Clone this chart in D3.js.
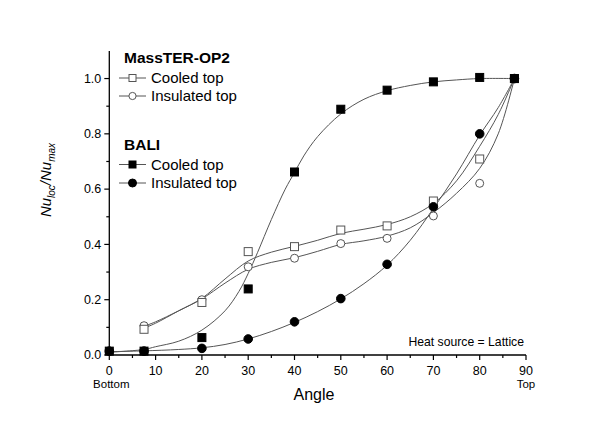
<!DOCTYPE html>
<html><head><meta charset="utf-8">
<script src="https://cdn.jsdelivr.net/npm/d3@7"></script>
<style>html,body{margin:0;padding:0;background:#fff;}svg{display:block;font-family:"Liberation Sans",Arial,sans-serif;}</style>
</head><body><svg id="c" width="610" height="426"></svg>
<script>
// ---- data ----
const xTicks = [0,10,20,30,40,50,60,70,80,90];
const yTicks = [0.0,0.2,0.4,0.6,0.8,1.0];
const angles = [7.5,20,30,40,50,60,70,80,87.5];
const anglesBali = [0,7.5,20,30,40,50,60,70,80,87.5];
const masterCooled = [0.093,0.19,0.374,0.392,0.452,0.467,0.557,0.709,1.0];
const masterInsul  = [0.106,0.20,0.319,0.35,0.403,0.422,0.503,0.621,1.0];
const baliCooled   = [0.014,0.014,0.063,0.239,0.662,0.889,0.958,0.988,1.004,1.0];
const baliInsul    = [0.014,0.014,0.024,0.058,0.12,0.204,0.328,0.536,0.80,1.0];
// fitted curves
const fitMasterCooledX = [7.5,10,15,20,25,30,35,40,45,50,55,60,65,70,75,80,84,87.5];
const fitMasterCooledY = [0.097,0.115,0.16,0.205,0.275,0.34,0.372,0.393,0.415,0.44,0.455,0.472,0.5,0.548,0.63,0.755,0.87,1.0];
const fitMasterInsulX  = [7.5,10,15,20,25,30,35,40,45,50,55,60,65,70,75,80,84,87.5];
const fitMasterInsulY  = [0.104,0.12,0.16,0.203,0.26,0.31,0.335,0.352,0.375,0.4,0.413,0.43,0.46,0.515,0.585,0.675,0.8,1.0];
const fitBaliCooledX = [0,7.5,10,15,20,25,28,30,32,35,38,40,42,45,50,55,60,65,70,75,80,87.5];
const fitBaliCooledY = [0.01,0.02,0.03,0.05,0.09,0.16,0.23,0.295,0.37,0.49,0.6,0.66,0.72,0.79,0.872,0.925,0.956,0.975,0.988,0.995,1.0,1.0];
const fitBaliInsulX  = [0,7.5,15,20,25,30,35,40,45,50,55,60,65,70,75,80,84,87.5];
const fitBaliInsulY  = [0.012,0.015,0.02,0.026,0.038,0.058,0.085,0.118,0.157,0.203,0.258,0.325,0.415,0.53,0.655,0.795,0.895,1.0];

// ---- layout ----
const svg = d3.select("#c");
const x = d3.scaleLinear().domain([0,90]).range([109.3,526]);
const y = d3.scaleLinear().domain([0,1.1]).range([355,50.9]);
const lineCol = "#555";

// axes
const xAxis = svg.append("g").attr("transform","translate(0,355)");
xAxis.append("line").attr("x1",x(0)).attr("x2",x(90)).attr("stroke","#000").attr("stroke-width",1.3);
d3.range(0,91,5).forEach(v=>{
  const major = v%10===0;
  xAxis.append("line").attr("x1",x(v)).attr("x2",x(v)).attr("y1",0).attr("y2",major?5:3).attr("stroke","#000").attr("stroke-width",1.2);
});
xTicks.forEach(v=>{
  xAxis.append("text").attr("x",x(v)).attr("y",20).attr("text-anchor","middle").attr("font-size",12.5).text(v);
});
svg.append("text").attr("x",x(0)+2).attr("y",388).attr("text-anchor","middle").attr("font-size",11.5).text("Bottom");
svg.append("text").attr("x",x(90)).attr("y",388).attr("text-anchor","middle").attr("font-size",11.5).text("Top");
svg.append("text").attr("x",314).attr("y",400).attr("text-anchor","middle").attr("font-size",16).text("Angle");

const yAxis = svg.append("g").attr("transform",`translate(${x(0)},0)`);
yAxis.append("line").attr("y1",y(0)).attr("y2",y(1.1)).attr("stroke","#000").attr("stroke-width",1.3);
d3.range(0,11).map(i=>i/10).forEach(v=>{
  const major = Math.round(v*10)%2===0;
  yAxis.append("line").attr("x1",0).attr("x2",major?-5:-3).attr("y1",y(v)).attr("y2",y(v)).attr("stroke","#000").attr("stroke-width",1.2);
});
yTicks.forEach(v=>{
  yAxis.append("text").attr("x",-8).attr("y",y(v)+4.3).attr("text-anchor","end").attr("font-size",12.5).text(v.toFixed(1));
});
const yl = svg.append("text").attr("transform","translate(51,180) rotate(-90)").attr("text-anchor","middle")
  .attr("font-size",15).attr("font-style","italic");
yl.append("tspan").text("Nu");
yl.append("tspan").attr("font-size",10).attr("dy",4).text("loc");
yl.append("tspan").attr("dy",-4).text("/Nu");
yl.append("tspan").attr("font-size",10).attr("dy",4).text("max");

// curves
const line = d3.line().x(d=>x(d[0])).y(d=>y(d[1])).curve(d3.curveCatmullRom.alpha(0.5));
[[fitMasterCooledX,fitMasterCooledY],[fitMasterInsulX,fitMasterInsulY],[fitBaliCooledX,fitBaliCooledY],[fitBaliInsulX,fitBaliInsulY]].forEach(([xs,ys])=>{
  svg.append("path").attr("d",line(xs.map((v,i)=>[v,ys[i]]))).attr("fill","none").attr("stroke",lineCol).attr("stroke-width",1);
});

// markers
function square(g,cx,cy,filled){
  const s = filled?8:8;
  g.append("rect").attr("x",cx-s/2).attr("y",cy-s/2).attr("width",s).attr("height",s)
   .attr("fill",filled?"#000":"#fff").attr("stroke",filled?"#000":"#555").attr("stroke-width",1);
}
function circle(g,cx,cy,filled){
  g.append("circle").attr("cx",cx).attr("cy",cy).attr("r",filled?4.3:4)
   .attr("fill",filled?"#000":"#fff").attr("stroke",filled?"#000":"#555").attr("stroke-width",1);
}
const mk = svg.append("g");
angles.forEach((a,i)=>circle(mk,x(a),y(masterInsul[i]),false));
angles.forEach((a,i)=>square(mk,x(a),y(masterCooled[i]),false));
anglesBali.forEach((a,i)=>circle(mk,x(a),y(baliInsul[i]),true));
anglesBali.forEach((a,i)=>square(mk,x(a),y(baliCooled[i]),true));

// legend
const lg = svg.append("g");
lg.append("text").attr("x",124).attr("y",63).attr("font-size",15.5).attr("font-weight","bold").text("MassTER-OP2");
lg.append("text").attr("x",124).attr("y",149.5).attr("font-size",15.5).attr("font-weight","bold").text("BALI");
const entries = [
  {yy:78, label:"Cooled top", shape:"square", filled:false},
  {yy:96, label:"Insulated top", shape:"circle", filled:false},
  {yy:164.5, label:"Cooled top", shape:"square", filled:true},
  {yy:183, label:"Insulated top", shape:"circle", filled:true}
];
entries.forEach(e=>{
  lg.append("line").attr("x1",119).attr("x2",146).attr("y1",e.yy).attr("y2",e.yy).attr("stroke",lineCol).attr("stroke-width",1);
  if(e.shape==="square"){
    const s = e.filled?7:7;
    lg.append("rect").attr("x",132.5-s/2).attr("y",e.yy-s/2).attr("width",s).attr("height",s)
      .attr("fill",e.filled?"#000":"#fff").attr("stroke",e.filled?"#000":"#555");
  } else {
    lg.append("circle").attr("cx",132.5).attr("cy",e.yy).attr("r",e.filled?4:3.6)
      .attr("fill",e.filled?"#000":"#fff").attr("stroke",e.filled?"#000":"#555");
  }
  lg.append("text").attr("x",151).attr("y",e.yy+5).attr("font-size",15).text(e.label);
});

svg.append("text").attr("x",524).attr("y",345.7).attr("text-anchor","end").attr("font-size",12.2).text("Heat source = Lattice");
</script></body></html>
